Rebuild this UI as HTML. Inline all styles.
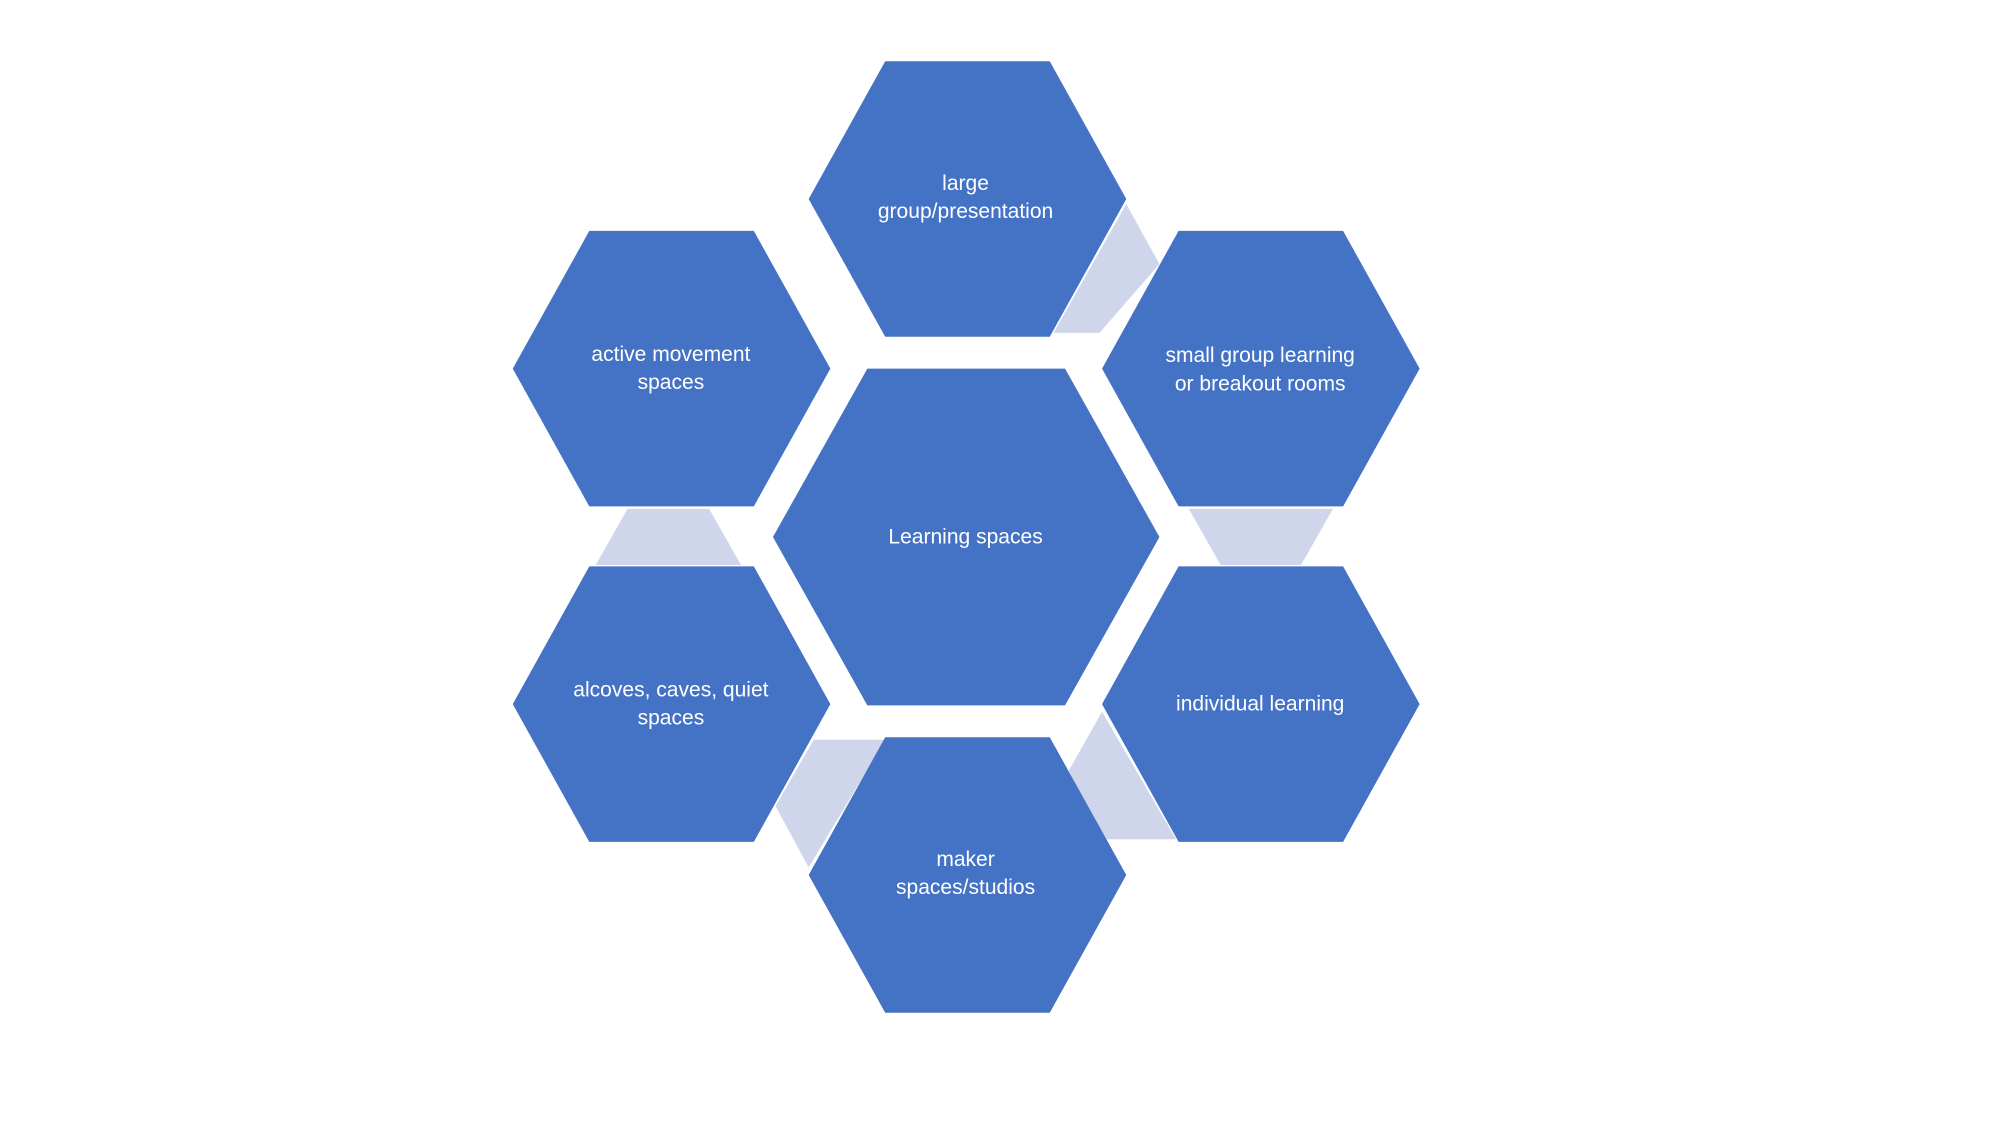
<!DOCTYPE html>
<html><head><meta charset="utf-8"><style>
html,body{margin:0;padding:0;background:#fff;width:2000px;height:1125px;overflow:hidden}
svg{display:block}
text{font-family:"Liberation Sans",sans-serif;font-size:16.5px;fill:#fff;text-anchor:middle}
</style></head><body>
<svg width="2000" height="1125" viewBox="0 0 1568 882" xmlns="http://www.w3.org/2000/svg">
<rect width="1568" height="882" fill="#fff"/>
<g fill="#CFD5EA">
<polygon points="883,160 909,207 862,261 826,261"/>
<polygon points="932,399 1045,399 1020,443 957,443"/>
<polygon points="864,558 922,658 863,658 838,604"/>
<polygon points="608,632 638,580 694,580 634,680"/>
<polygon points="467,443 492,399 556,399 581,443"/>
</g>
<g fill="#4472C4">
<polygon points="606,421 680,289 835,289 909,421 835,553 680,553"/>
<polygon points="634,156 694,48 823,48 883,156 823,264 694,264"/>
<polygon points="402,289 462,181 591,181 651,289 591,397 462,397"/>
<polygon points="864,289 924,181 1053,181 1113,289 1053,397 924,397"/>
<polygon points="402,552 462,444 591,444 651,552 591,660 462,660"/>
<polygon points="864,552 924,444 1053,444 1113,552 1053,660 924,660"/>
<polygon points="634,686 694,578 823,578 883,686 823,794 694,794"/>
</g>
<text x="757" y="426">Learning spaces</text>
<text x="757" y="149">large</text>
<text x="757" y="171">group/presentation</text>
<text x="526" y="283">active movement</text>
<text x="526" y="305">spaces</text>
<text x="988" y="284">small group learning</text>
<text x="988" y="306">or breakout rooms</text>
<text x="526" y="546">alcoves, caves, quiet</text>
<text x="526" y="568">spaces</text>
<text x="988" y="557">individual learning</text>
<text x="757" y="679">maker</text>
<text x="757" y="701">spaces/studios</text>
</svg>
</body></html>
